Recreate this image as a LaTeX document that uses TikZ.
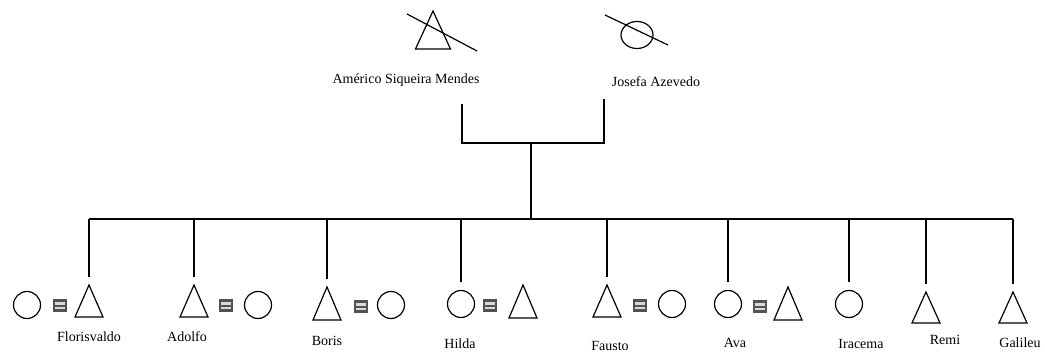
\documentclass[tikz,border=0pt]{standalone}
\usepackage{fontspec}
\setmainfont{Liberation Serif}
\usetikzlibrary{shapes.geometric,positioning}

\begin{document}
\begin{tikzpicture}[
  x=1pt, y=-1pt,
  line width=1.2pt,
  font=\fontsize{14}{16}\selectfont,
  male/.style={draw, isosceles triangle, shape border rotate=90,
               isosceles triangle stretches, minimum width=28, minimum height=32,
               inner sep=0pt, outer sep=0pt, anchor=apex},
  female/.style={draw, ellipse, minimum width=27, minimum height=27,
                 inner sep=0pt, outer sep=0pt},
  marr/.style={rectangle, fill=black!68, minimum width=14, minimum height=13,
               inner sep=0pt, path picture={
     \fill[white!85!black] ([shift={(2.2,3)}]path picture bounding box.north west)
        rectangle ([shift={(-2.2,5.3)}]path picture bounding box.north east);
     \fill[white!85!black] ([shift={(2.2,-5.3)}]path picture bounding box.south west)
        rectangle ([shift={(-2.2,-3)}]path picture bounding box.south east);}},
  lbl/.style={inner sep=1pt},
  descent/.style={shorten >=8pt},
]
\useasboundingbox (0,0) rectangle (1045,352);
% parents (both deceased)
\node[male, minimum width=35, minimum height=38] (americo) at (433,11) {};
\draw ([shift={(-26,3)}]americo.apex) -- ([shift={(44,40)}]americo.apex);
\node[female, minimum width=32] (josefa) at (637,35) {};
\draw ([shift={(-32,-20)}]josefa.center) -- ([shift={(31,10)}]josefa.center);
\node[lbl] (americoLbl) at (406,80) {Américo Siqueira Mendes};
\node[lbl] (josefaLbl) at (656,82) {Josefa Azevedo};
% couple line and descent
\coordinate (fromA) at (462,104);
\coordinate (fromJ) at (604,99);
\coordinate (couple) at (531,143);
\coordinate (sib) at (531,219);
\draw (fromA) -- (fromA |- couple) -- (fromJ |- couple) -- (fromJ);
\draw (couple) -- (sib);
% children with their spouses
\node[male] (florisvaldo) at (89,285) {};
\node[marr] (florisvaldoM) at (60,306) {};
\node[female] (florisvaldoW) at (27,305) {};
\node[male] (adolfo) at (194,285) {};
\node[marr] (adolfoM) at (226,306) {};
\node[female] (adolfoW) at (258,305) {};
\node[male, minimum height=33] (boris) at (327,287) {};
\node[marr] (borisM) at (361,307) {};
\node[female] (borisW) at (391,305) {};
\node[female] (hilda) at (461,304) {};
\node[marr] (hildaM) at (490,306) {};
\node[male, minimum height=33] (hildaH) at (523,285) {};
\node[male] (fausto) at (607,285) {};
\node[marr] (faustoM) at (640,306) {};
\node[female] (faustoW) at (672,304) {};
\node[female] (ava) at (728,304) {};
\node[marr] (avaM) at (760,307) {};
\node[male, minimum height=33] (avaH) at (788,287) {};
\node[female] (iracema) at (849,304) {};
\node[male, minimum height=31] (remi) at (926,292) {};
\node[male, minimum height=31] (galileu) at (1013,292) {};
% sibship line
\draw (florisvaldo.apex |- sib) -- (galileu.apex |- sib);
\foreach \p in {florisvaldo, adolfo, boris, fausto, remi, galileu}
  \draw[descent] (\p.apex |- sib) -- (\p.apex);
\foreach \p in {hilda, ava, iracema}
  \draw[descent] (\p.north |- sib) -- (\p.north);
% names
\node[lbl] (florisvaldoLbl) at (89,337) {Florisvaldo};
\node[lbl] (adolfoLbl) at (187,337) {Adolfo};
\node[lbl] (borisLbl) at (327,341) {Boris};
\node[lbl] (hildaLbl) at (460,344) {Hilda};
\node[lbl] (faustoLbl) at (610,346) {Fausto};
\node[lbl] (avaLbl) at (735,343) {Ava};
\node[lbl] (iracemaLbl) at (861,344) {Iracema};
\node[lbl] (remiLbl) at (945,340) {Remi};
\node[lbl] (galileuLbl) at (1020,343) {Galileu};
\end{tikzpicture}
\end{document}
